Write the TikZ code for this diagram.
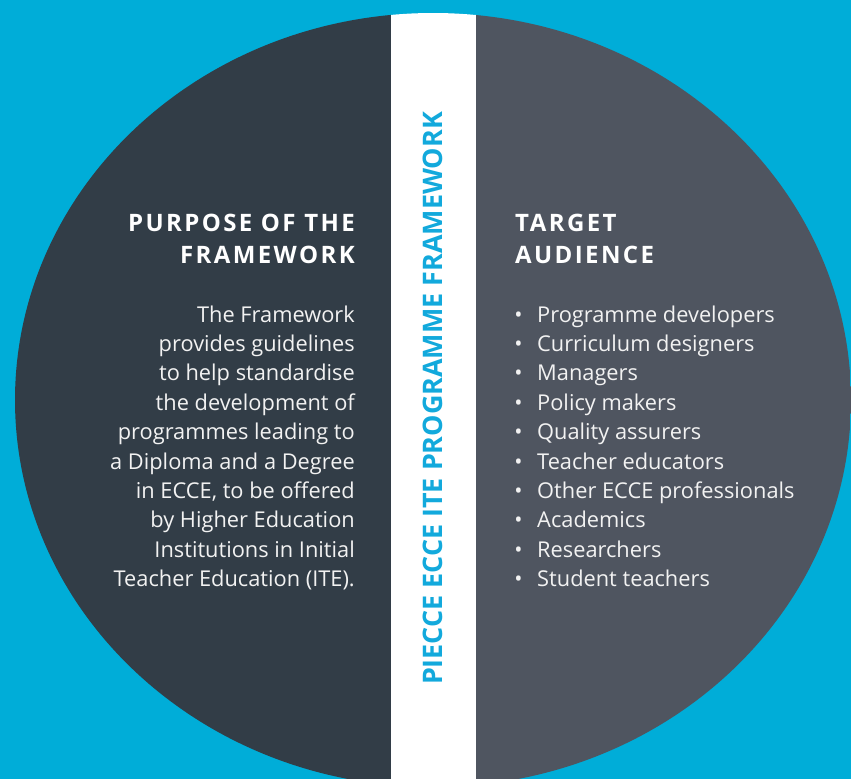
\documentclass[tikz,border=0pt]{standalone}
\usepackage{fontspec}
\setmainfont{Open Sans}
\newfontfamily\headfont[LetterSpace=10]{Open Sans}
\definecolor{bgblue}{HTML}{00ADD8}
\definecolor{leftdark}{HTML}{323D47}
\definecolor{rightgray}{HTML}{4F5560}
\definecolor{bandtext}{HTML}{12A9DC}
\definecolor{txt}{HTML}{F2F2F2}
\tikzset{
  head/.style={inner sep=0pt, text=white, font=\headfont\bfseries\fontsize{24}{32}\selectfont},
  body/.style={inner sep=0pt, text=txt, font=\fontsize{21.8}{29.4}\selectfont},
  vtitle/.style={inner sep=0pt, text=bandtext, font=\bfseries\fontsize{26.9}{32}\selectfont, rotate=90, anchor=base}
}
\begin{document}
\begin{tikzpicture}[x=1pt,y=-1pt]
\useasboundingbox (0,0) rectangle (851,779);
\fill[bgblue] (0,0) rectangle (851,779);
\begin{scope}
  \clip (433,400) ellipse [x radius=418pt, y radius=387pt];
  \fill[leftdark] (0,0) rectangle (391,779);
  \fill[rightgray] (476,0) rectangle (851,779);
  \fill[white] (391,0) rectangle (476,779);
\end{scope}
% vertical title
\node[vtitle] (title) at (442.5,398.5) {PIECCE ECCE ITE PROGRAMME FRAMEWORK};
% left heading
\node[head, anchor=base east] (lh1) at (355,231) {PURPOSE OF THE};
\node[head, anchor=base east] (lh2) at (355,263) {FRAMEWORK};
% right heading
\node[head, anchor=base west] (rh1) at (515,231) {TARGET};
\node[head, anchor=base west] (rh2) at (515,263) {AUDIENCE};
% left paragraph
\foreach \t [count=\i from 0] in {The Framework, provides guidelines, to help standardise, the development of, programmes leading to, a Diploma and a Degree, {in ECCE, to be offered}, by Higher Education, Institutions in Initial, Teacher Education (ITE).}{
  \node[body, anchor=base east] (lp\i) at (355,{322+29.4*\i}) {\t};
}
% right list
\foreach \t [count=\i from 0] in {Programme developers, Curriculum designers, Managers, Policy makers, Quality assurers, Teacher educators, Other ECCE professionals, Academics, Researchers, Student teachers}{
  \node[body, anchor=base] (b\i) at (518.5,{322+29.4*\i}) {•};
  \node[body, anchor=base west] (li\i) at (537,{322+29.4*\i}) {\t};
}
\end{tikzpicture}
\end{document}
